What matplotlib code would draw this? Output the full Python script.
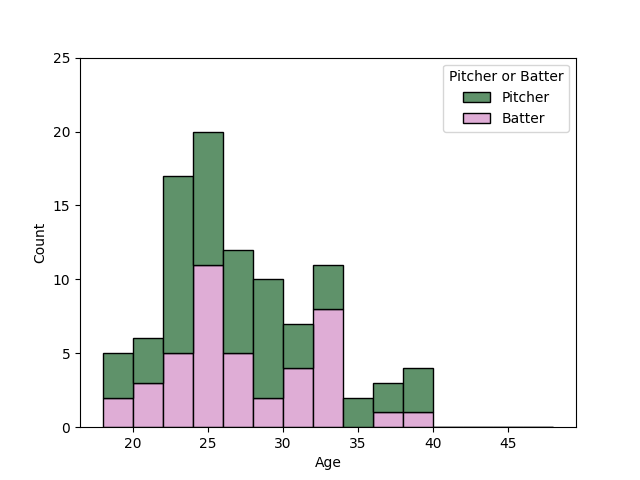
import matplotlib
matplotlib.use("Agg")
import matplotlib.pyplot as plt
import numpy as np

# bin edges (width 2) and stacked counts per bin
bin_edges = [18, 20, 22, 24, 26, 28, 30, 32, 34, 36, 38, 40, 42, 44, 46, 48]
batter_counts = [2, 3, 5, 11, 5, 2, 4, 8, 0, 1, 1, 0, 0, 0, 0]
pitcher_counts = [3, 3, 12, 9, 7, 8, 3, 3, 2, 2, 3, 0, 0, 0, 0]

pitcher_color = "#5f926a"
batter_color = "#dfadd6"

fig, ax = plt.subplots(figsize=(6.4, 4.8), dpi=100)

left = np.array(bin_edges[:-1])
widths = np.diff(bin_edges)

# batter on the bottom, pitcher stacked on top (seaborn multiple="stack")
ax.bar(left, batter_counts, width=widths, align="edge", color=batter_color,
       edgecolor="black", linewidth=1, label="Batter")
ax.bar(left, pitcher_counts, width=widths, bottom=batter_counts, align="edge",
       color=pitcher_color, edgecolor="black", linewidth=1, label="Pitcher")

ax.set_ylim(0, 25)
ax.set_xlabel("Age")
ax.set_ylabel("Count")

handles, labels = ax.get_legend_handles_labels()
ax.legend(handles[::-1], labels[::-1], title="Pitcher or Batter", loc="upper right")

fig.savefig("out.png", dpi=100)
